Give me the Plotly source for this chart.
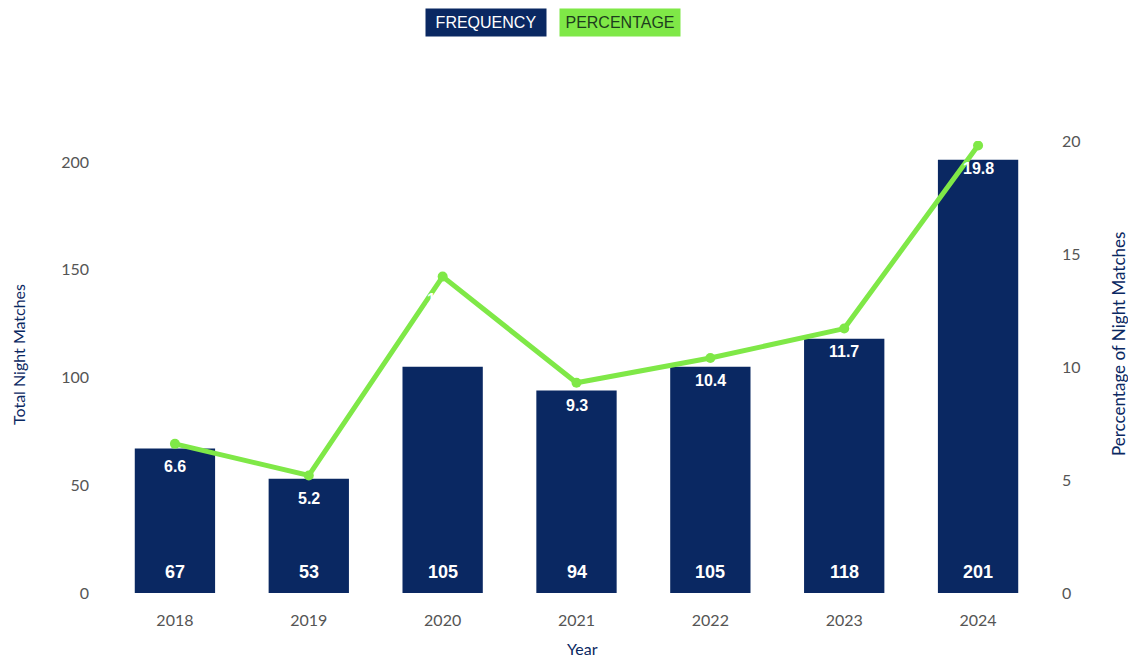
import plotly.graph_objects as go

# Night matches per season
years = ["2018", "2019", "2020", "2021", "2022", "2023", "2024"]
frequency = [67, 53, 105, 94, 105, 118, 201]
percentage = [6.6, 5.2, 14.0, 9.3, 10.4, 11.7, 19.8]

left_ticks = [0, 50, 100, 150, 200]
right_ticks = [0, 5, 10, 15, 20]

NAVY = "#0a2862"
GREEN = "#7fe847"
TICK_GRAY = "#555555"
TICK_FONT = "Lato"
LABEL_FONT = "Liberation Sans"

W, H = 1128, 658
L, R, T, B = 108, 83, 141, 65
pw, ph = W - L - R, H - T - B


def page_x(px):
    return (px - L) / pw


def page_y(py):
    return 1 - (py - T) / ph


fig = go.Figure()

fig.add_trace(go.Bar(
    x=years, y=frequency, name="FREQUENCY",
    marker=dict(color=NAVY, line=dict(width=0)),
    width=0.6, yaxis="y",
))

fig.add_trace(go.Scatter(
    x=years, y=percentage, name="PERCENTAGE",
    mode="lines+markers",
    line=dict(color=GREEN, width=5),
    marker=dict(color=GREEN, size=10),
    yaxis="y2",
))

annotations = []
# Count labels near the bar bases (category index positions)
for i, f in enumerate(frequency):
    annotations.append(dict(
        x=i, y=0, xref="x", yref="y", text=str(f), showarrow=False,
        yanchor="middle", yshift=21,
        font=dict(family=LABEL_FONT, size=18, color="white", weight="bold"),
    ))
# Percentage labels just below each point
for i, p in enumerate(percentage):
    annotations.append(dict(
        x=i, y=p, xref="x", yref="y2", text=f"{p:.1f}", showarrow=False,
        yanchor="middle", yshift=-23,
        font=dict(family=LABEL_FONT, size=16, color="white", weight="bold"),
    ))

# Boxed legend entries
annotations += [
    dict(x=page_x(486), y=page_y(22), xref="paper", yref="paper",
         xanchor="center", yanchor="middle", text="FREQUENCY", showarrow=False,
         bgcolor=NAVY, borderpad=5, width=110,
         font=dict(family=LABEL_FONT, size=16, color="white")),
    dict(x=page_x(620), y=page_y(22), xref="paper", yref="paper",
         xanchor="center", yanchor="middle", text="PERCENTAGE", showarrow=False,
         bgcolor=GREEN, borderpad=5, width=110,
         font=dict(family=LABEL_FONT, size=16, color="#1d3d1d")),
]

# Axis titles
annotations += [
    dict(x=page_x(18), y=page_y(355), xref="paper", yref="paper",
         xanchor="center", yanchor="middle", text="Total Night Matches",
         textangle=-90, showarrow=False,
         font=dict(family=TICK_FONT, size=16, color=NAVY)),
    dict(x=page_x(1118), y=page_y(344), xref="paper", yref="paper",
         xanchor="center", yanchor="middle", text="Perccentage of Night Matches",
         textangle=-90, showarrow=False,
         font=dict(family=TICK_FONT, size=17, color=NAVY)),
    dict(x=page_x(582), y=page_y(648), xref="paper", yref="paper",
         xanchor="center", yanchor="middle", text="Year", showarrow=False,
         font=dict(family=TICK_FONT, size=16, color=NAVY)),
]

fig.update_layout(
    width=W, height=H,
    margin=dict(l=L, r=R, t=T, b=B),
    paper_bgcolor="white", plot_bgcolor="white",
    showlegend=False,
    xaxis=dict(
        type="category", range=[-0.5, 6.5],
        showgrid=False, showline=False, zeroline=False, ticks="",
        ticklabelstandoff=16,
        tickfont=dict(family=TICK_FONT, size=16, color=TICK_GRAY),
    ),
    yaxis=dict(
        range=[0, 209.7], tickvals=left_ticks,
        showgrid=False, showline=False, zeroline=False, ticks="",
        ticklabelstandoff=18,
        tickfont=dict(family=TICK_FONT, size=16, color=TICK_GRAY),
    ),
    yaxis2=dict(
        range=[0, 20], tickvals=right_ticks, overlaying="y", side="right",
        showgrid=False, showline=False, zeroline=False, ticks="",
        ticklabelstandoff=16,
        tickfont=dict(family=TICK_FONT, size=16, color=TICK_GRAY),
    ),
    annotations=annotations,
)

fig.write_html("out.html")
